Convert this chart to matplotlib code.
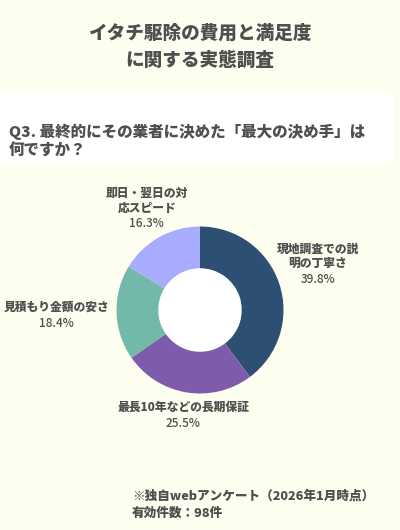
import numpy as np
import matplotlib
matplotlib.use("Agg")
import matplotlib.pyplot as plt
from matplotlib.patches import Rectangle, Circle

plt.rcParams['font.family'] = ['Noto Sans CJK JP', 'DejaVu Sans']

# ---- data ----
title_lines = ["イタチ駆除の費用と満足度", "に関する実態調査"]
question = "Q3. 最終的にその業者に決めた「最大の決め手」は\n何ですか？"
categories = ["現地調査での説\n明の丁寧さ", "最長10年などの長期保証", "見積もり金額の安さ", "即日・翌日の対\n応スピード"]
values = [39.8, 25.5, 18.4, 16.3]
footer_lines = ["※独自webアンケート（2026年1月時点）", "有効件数：98件"]

# ---- style ----
colors = ["#2D4F73", "#7F5BAD", "#72B9A9", "#A8ACFE"]
label_dist = [1.49, 1.27, 1.72, 1.30]
text_color = "#4F4F4F"
bg = "#FEFEF0"

W, H = 400, 530
fig = plt.figure(figsize=(W / 100, H / 100), dpi=100, facecolor=bg)

def fx(x):
    return x / W

def fy(y):
    return 1 - y / H

# white question band
fig.patches.append(Rectangle((0, fy(163)), fx(394), (163 - 93) / H,
                             transform=fig.transFigure, facecolor="white",
                             edgecolor="none", zorder=0))

fig.text(0.5, fy(33), title_lines[0], ha="center", va="center",
         fontsize=13.4, fontweight="heavy", color=text_color)
fig.text(0.5, fy(60), title_lines[1], ha="center", va="center",
         fontsize=13.4, fontweight="heavy", color=text_color)

fig.text(fx(9), fy(141), question, ha="left", va="center", fontsize=11.2,
         fontweight="heavy", color=text_color, linespacing=1.3)

# donut
cx, cy, R = 200, 310, 83.5
ax = fig.add_axes([fx(cx - R), fy(cy + R), 2 * R / W, 2 * R / H])
ax.set_facecolor("none")
wedges, _ = ax.pie(values, colors=colors, startangle=90, counterclock=False,
                   radius=1.0, wedgeprops=dict(width=0.5, edgecolor="none"))
ax.add_patch(Circle((0, 0), 0.5, facecolor="white", edgecolor="none", zorder=0))
ax.set_xlim(-1, 1)
ax.set_ylim(-1, 1)
ax.set_aspect("equal")
ax.axis("off")

for w, cat, v, d in zip(wedges, categories, values, label_dist):
    theta = np.deg2rad((w.theta1 + w.theta2) / 2)
    px = cx + R * d * np.cos(theta)
    py = cy - R * d * np.sin(theta)
    fig.text(fx(px), fy(py - 2), cat, ha="center", va="bottom", fontsize=8.5,
             fontweight="heavy", color=text_color, linespacing=1.25)
    fig.text(fx(px), fy(py + 2), f"{v}%", ha="center", va="top", fontsize=8.5,
             fontweight="medium", color=text_color)

fig.text(fx(132), fy(495), footer_lines[0], ha="left", va="center",
         fontsize=9.1, fontweight="heavy", color=text_color)
fig.text(fx(132), fy(513), footer_lines[1], ha="left", va="center",
         fontsize=9.1, fontweight="heavy", color=text_color)

fig.savefig("out.png", dpi=100, facecolor=bg)
